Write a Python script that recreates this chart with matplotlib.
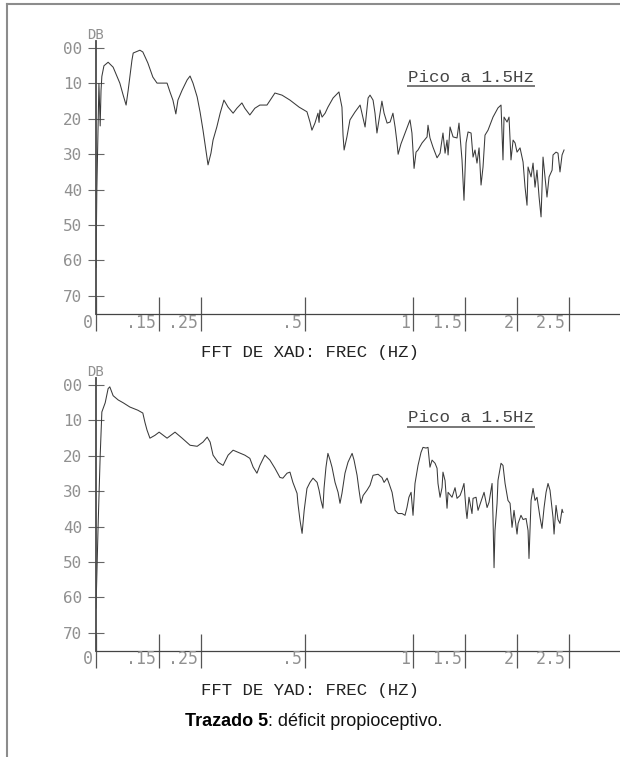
import numpy as np
import matplotlib
matplotlib.use("Agg")
import matplotlib.pyplot as plt
from matplotlib.lines import Line2D
from matplotlib import transforms

# ---- datos (frecuencia en Hz, nivel en dB) ----
xad_hz = [0, 0.002, 0.007, 0.010, 0.012, 0.014, 0.019, 0.029, 0.041, 0.057,
          0.065, 0.072, 0.077, 0.086, 0.089, 0.105, 0.112, 0.124, 0.136, 0.146,
          0.170, 0.177, 0.184, 0.191, 0.196, 0.206, 0.218, 0.225, 0.232, 0.242,
          0.249, 0.256, 0.263, 0.268, 0.275, 0.280, 0.289, 0.297, 0.306, 0.316,
          0.328, 0.337, 0.349, 0.356, 0.368, 0.380, 0.392, 0.409, 0.428, 0.445,
          0.464, 0.486,
          0.509, 0.523, 0.532, 0.546, 0.560, 0.565, 0.569, 0.579, 0.593, 0.606,
          0.630, 0.657, 0.671, 0.676, 0.681, 0.694, 0.708, 0.731, 0.755, 0.769,
          0.778, 0.792, 0.801, 0.815, 0.824, 0.833, 0.847, 0.856, 0.866, 0.880,
          0.894, 0.907, 0.917, 0.926, 0.931, 0.944, 0.963, 0.986, 0.995,
          1.010, 1.029, 1.048, 1.087, 1.135, 1.144, 1.163, 1.192, 1.231, 1.260,
          1.288, 1.308, 1.327, 1.337, 1.356, 1.385, 1.423, 1.442, 1.471, 1.490,
          1.510, 1.529, 1.558, 1.577, 1.596, 1.615, 1.635, 1.654, 1.673, 1.692,
          1.721, 1.769, 1.817, 1.846, 1.865, 1.875, 1.904, 1.923, 1.942, 1.962,
          1.981, 2.000, 2.029, 2.058, 2.077, 2.096, 2.106, 2.135, 2.154, 2.173,
          2.192, 2.212, 2.231, 2.250, 2.269, 2.288, 2.308, 2.337, 2.346, 2.375,
          2.394, 2.413, 2.433, 2.452]
xad_db = [62, 40, 10, 22, 12, 8, 5, 4.0, 5.4, 9.9,
          13.3, 16.1, 11.9, 3.4, 1.4, 0.6, 1.1, 4.2, 8.2, 9.9,
          9.9, 12.4, 14.7, 18.6, 14.7, 11.9, 9.0, 7.9, 9.9, 13.8,
          18.1, 23.2, 28.8, 33.0, 29.7, 26.0, 22.3, 18.4, 14.7, 16.7,
          18.4, 17.0, 15.5, 17.0, 18.9, 17.0, 16.1, 16.1, 12.7, 13.3,
          14.7, 16.7,
          18.0, 20.9, 23.2, 21.2, 18.4, 21.0, 17.5, 19.5, 18.4, 16.7,
          14.1, 12.4, 16.7, 24.6, 28.8, 25.1, 20.3, 18.1, 16.1, 19.8,
          22.3, 14.1, 13.3, 14.7, 18.4, 24.0, 18.4, 15.0, 18.4, 21.2,
          20.9, 18.4, 22.3, 26.8, 30.0, 27.1, 24.0, 20.3, 24.0,
          34.0, 29.4, 28.8, 26.8, 25.1, 21.8, 25.4, 28.0, 31.0, 29.7,
          24.0, 29.7, 26.0, 30.2, 22.3, 25.1, 25.4, 21.2, 31.6, 43.0,
          26.8, 23.7, 24.0, 30.8, 28.8, 32.5, 28.2, 38.7, 33.6, 24.6,
          23.2, 19.5, 16.9, 16.1, 31.6, 19.5, 20.9, 19.5, 31.6, 26.0,
          26.8, 29.4, 28.2, 32.2, 39.3, 44.4, 33.6, 36.4, 32.5, 39.3,
          34.5, 42.1, 47.7, 30.8, 36.4, 42.1, 36.4, 34.5, 30.2, 29.4,
          29.7, 35.0, 30.2, 28.8]

yad_hz = [0, 0.005, 0.010, 0.014, 0.022, 0.029, 0.033, 0.041, 0.053, 0.065,
          0.081, 0.100, 0.112, 0.117, 0.122, 0.129, 0.141, 0.151, 0.170, 0.189,
          0.206, 0.225, 0.242, 0.256, 0.266, 0.273, 0.280, 0.292, 0.304, 0.316,
          0.328, 0.340, 0.356, 0.368, 0.376, 0.385, 0.392, 0.404, 0.416, 0.428,
          0.440, 0.447, 0.457, 0.464, 0.471, 0.481, 0.483, 0.488, 0.493, 0.498,
          0.509, 0.523, 0.537, 0.556, 0.565, 0.574, 0.583, 0.588, 0.597, 0.606,
          0.616, 0.625, 0.639, 0.653, 0.662, 0.671, 0.685, 0.699, 0.718, 0.727,
          0.741, 0.750, 0.759, 0.769, 0.787, 0.801, 0.815, 0.838, 0.856, 0.866,
          0.880, 0.889, 0.903, 0.917, 0.931, 0.949, 0.963, 0.972, 0.981, 0.991,
          1.000,
          1.019, 1.048, 1.077, 1.096, 1.125, 1.144, 1.163, 1.183, 1.212, 1.231,
          1.240, 1.260, 1.279, 1.288, 1.308, 1.327, 1.337, 1.375, 1.404, 1.423,
          1.452, 1.471, 1.490, 1.510, 1.519, 1.538, 1.567, 1.577, 1.606, 1.625,
          1.663, 1.683, 1.712, 1.731, 1.760, 1.769, 1.779, 1.788, 1.808, 1.817,
          1.846, 1.865, 1.885, 1.913, 1.933, 1.952, 1.971, 2.000, 2.010, 2.038,
          2.058, 2.087, 2.106, 2.115, 2.135, 2.154, 2.173, 2.192, 2.221, 2.240,
          2.260, 2.279, 2.298, 2.317, 2.346, 2.356, 2.375, 2.394, 2.413, 2.433,
          2.442]
yad_db = [63, 40, 20, 7.6, 5.0, 1.0, 0.5, 3.0, 4.2, 5.0,
          6.2, 7.1, 7.9, 10.5, 12.7, 15.0, 14.2, 13.3, 15.0, 13.3,
          15.0, 17.0, 17.3, 16.1, 14.7, 16.1, 19.8, 21.8, 22.7, 19.8,
          18.4, 19.0, 19.8, 20.7, 23.2, 24.9, 22.7, 19.8, 21.2, 23.5,
          26.1, 26.3, 24.9, 24.6, 27.5, 30.6, 33.4, 38.2, 41.9, 35.4,
          29.2, 27.5, 26.3, 27.5, 29.7, 32.6, 34.8, 29.2, 23.2, 19.3,
          21.2, 23.2, 27.5, 30.3, 33.4, 30.6, 24.9, 21.8, 19.3, 21.2,
          25.5, 29.7, 33.4, 31.2, 29.7, 28.3, 25.5, 25.2, 26.1, 27.5,
          26.3, 27.8, 30.3, 35.4, 36.3, 36.3, 36.8, 34.6, 31.7, 30.3,
          36.8,
          27.8, 22.7, 19.0, 17.6, 17.8, 17.6, 23.2, 21.2, 22.1, 23.5,
          27.8, 31.7, 29.0, 24.6, 27.0, 34.8, 30.3, 31.7, 29.0, 32.0,
          31.2, 29.7, 27.8, 35.4, 37.7, 31.7, 36.3, 32.0, 31.7, 35.4,
          32.0, 30.3, 34.6, 33.1, 27.8, 37.4, 51.6, 41.1, 33.4, 26.9,
          22.1, 22.7, 27.8, 32.6, 33.4, 40.2, 35.4, 42.1, 39.1, 36.8,
          38.0, 37.7, 41.1, 49.0, 32.6, 29.2, 32.6, 31.7, 37.4, 40.5,
          34.6, 30.3, 27.8, 29.7, 37.4, 42.1, 34.0, 38.0, 39.1, 35.1,
          36.0]

freq_ticks = [0, 0.15, 0.25, 0.5, 1, 1.5, 2, 2.5]
freq_labels = ["0", ".15", ".25", ".5", "1", "1.5", "2", "2.5"]
db_ticks = [0, 10, 20, 30, 40, 50, 60, 70]
db_labels = ["00", "10", "20", "30", "40", "50", "60", "70"]

# eje de frecuencia no lineal (tramos) como en el original
knot_hz = [-1, 0, 0.5, 1, 2.5, 4]
knot_pos = [-418, 0, 209, 317, 473, 629]


def fwd(f):
    return np.interp(f, knot_hz, knot_pos)


def inv(p):
    return np.interp(p, knot_pos, knot_hz)


W, H = 620, 757
fig = plt.figure(figsize=(W / 100, H / 100), dpi=100)

MONO = "DejaVu Sans Mono"
TXT = "Liberation Mono"
GRIS = "#909090"


def panel(top_px, hz, db, xlabel, pico_y):
    ax = fig.add_axes([96 / W, 1 - (top_px + 272.5) / H, 524 / W, 272.5 / H])
    ax.set_xscale("function", functions=(fwd, inv))
    ax.set_xlim(0, 2.99)
    ax.set_ylim(75, -2)
    ax.plot(hz, db, color="#3a3a3a", lw=0.75)

    ax.spines["top"].set_visible(False)
    ax.spines["right"].set_visible(False)
    ax.spines["left"].set_color("#4a4a4a")
    ax.spines["left"].set_linewidth(1.3)
    ax.spines["bottom"].set_linestyle((0, (1, 1)))
    ax.spines["bottom"].set_color("#444444")
    ax.spines["bottom"].set_linewidth(0.9)

    ax.set_yticks(db_ticks)
    ax.set_yticklabels(db_labels, family=MONO, fontsize=11.5, color=GRIS)
    ax.tick_params(axis="y", direction="inout", length=11.5, width=0.8,
                   color="#666666", pad=4)

    ax.set_xticks(freq_ticks)
    ax.set_xticklabels([])
    ax.tick_params(axis="x", direction="inout", length=25, width=0.9,
                   color="#555555")
    base = transforms.blended_transform_factory(ax.transData, ax.transAxes)
    lab_tr = transforms.offset_copy(base, fig=fig, x=-3, y=-9, units="dots")
    for f, lab in zip(freq_ticks, freq_labels):
        ax.text(f, 0, lab, transform=lab_tr, ha="right", va="center",
                family=MONO, fontsize=12, color=GRIS)

    fig.text(95 / W, 1 - (top_px - 6) / H, "DB", ha="center", va="center",
             family=MONO, fontsize=10, color=GRIS)
    fig.text(310 / W, 1 - (top_px + 312) / H, xlabel, ha="center",
             va="center", family=TXT, fontsize=12.5, color="#222222")

    t = fig.text(471 / W, 1 - pico_y / H, "Pico a 1.5Hz", ha="center",
                 va="center", family=TXT, fontsize=12.6, color="#444444")
    return t


p1 = panel(41, xad_hz, xad_db, "FFT DE XAD: FREC (HZ)", 77)
p2 = panel(378, yad_hz, yad_db, "FFT DE YAD: FREC (HZ)", 418)

# pie de figura: parte en negrita + parte normal
cap_y = 1 - 722 / H
c1 = fig.text(0, cap_y, "Trazado 5", family="Liberation Sans",
              fontweight="bold", fontsize=13, va="center", ha="left")
c2 = fig.text(0, cap_y, ": déficit propioceptivo.", family="Liberation Sans",
              fontsize=13, va="center", ha="left", color="#111111")

fig.canvas.draw()
r = fig.canvas.get_renderer()
w1 = c1.get_window_extent(r).width
w2 = c2.get_window_extent(r).width
x0 = 314 - (w1 + w2) / 2
c1.set_x(x0 / W)
c2.set_x((x0 + w1) / W)

# subrayado de "Pico a 1.5Hz"
for t in (p1, p2):
    bb = t.get_window_extent(r)
    yy = (bb.y0 - 1) / H
    fig.add_artist(Line2D([bb.x0 / W, bb.x1 / W], [yy, yy],
                          transform=fig.transFigure, color="#777777", lw=1.4))

# marco del recuadro (izquierda y arriba)
fig.add_artist(Line2D([6.5 / W, 6.5 / W], [0, 1 - 3.5 / H],
                      transform=fig.transFigure, color="#8c8c8c", lw=1.5))
fig.add_artist(Line2D([6.5 / W, 1], [1 - 3.5 / H, 1 - 3.5 / H],
                      transform=fig.transFigure, color="#8c8c8c", lw=1.5))

fig.savefig("out.png", dpi=100)
